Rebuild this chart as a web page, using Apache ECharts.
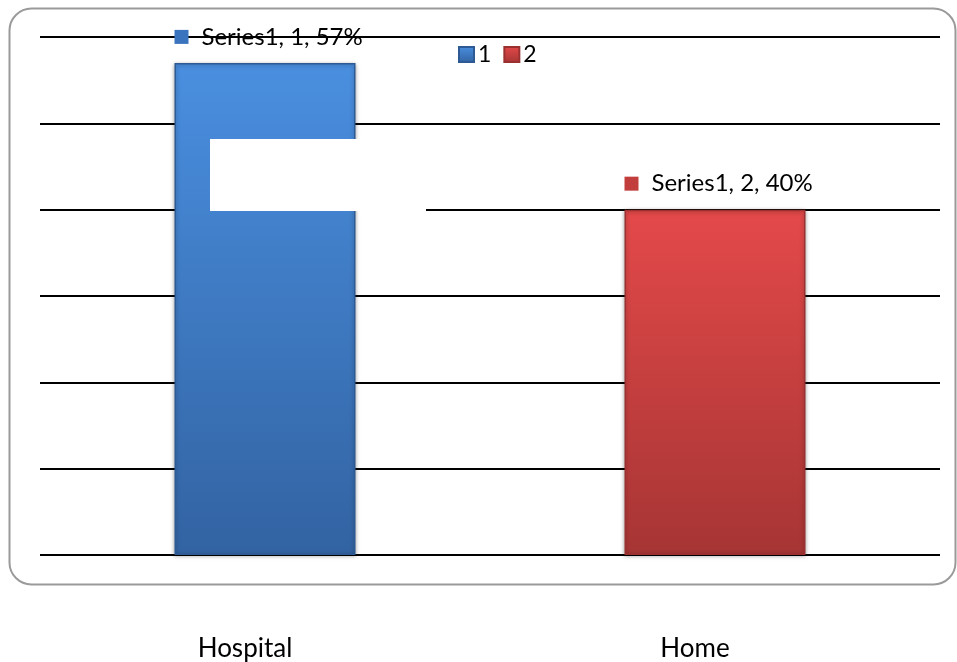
<!DOCTYPE html>
<html>
<head>
<meta charset="utf-8">
<script src="https://cdn.jsdelivr.net/npm/echarts@6/dist/echarts.min.js"></script>
<style>
  html, body { margin: 0; padding: 0; background: #fff; }
  #chart { width: 957px; height: 662px; }
</style>
</head>
<body>
<div id="chart"></div>
<script>
// Place of death shares
const categories = ['Hospital', 'Home'];
const seriesNames = ['1', '2'];
const hospitalValues = [57, null];
const homeValues = [null, 40];
const yTicks = [0, 10, 20, 30, 40, 50, 60];

const FONT = 'Lato';

function grad(top, bottom) {
  return new echarts.graphic.LinearGradient(0, 0, 0, 1, [
    { offset: 0, color: top },
    { offset: 1, color: bottom }
  ]);
}

const blue = grad('#4a8fe0', '#3263a2');
const red = grad('#e4494a', '#a63534');

function makeLabel(markerColor) {
  return {
    show: true,
    position: [0, -26],
    align: 'left',
    verticalAlign: 'middle',
    formatter: p => '{m|}{t|Series1, ' + (p.seriesName) + ', ' + p.value + '%}',
    rich: {
      m: { width: 14, height: 14, backgroundColor: markerColor },
      t: { fontFamily: FONT, fontSize: 24, color: '#000', padding: [0, 0, 0, 13] }
    }
  };
}

const chart = echarts.init(document.getElementById('chart'));
chart.setOption({
  animation: false,
  grid: { left: 40, right: 17, top: 37, bottom: 107 },
  legend: {
    left: 453, top: 38,
    icon: 'rect',
    itemWidth: 15, itemHeight: 15, itemGap: 12,
    textStyle: { fontFamily: FONT, fontSize: 23, color: '#000', padding: [0, 0, 0, -1] },
    data: seriesNames
  },
  xAxis: {
    type: 'category',
    data: categories,
    axisLine: { show: false },
    axisTick: { show: false },
    axisLabel: {
      margin: 81, fontFamily: FONT, fontSize: 26, color: '#000',
      padding: [0, 40, 0, 0]
    }
  },
  yAxis: {
    type: 'value',
    min: yTicks[0], max: yTicks[yTicks.length - 1], interval: 10,
    axisLabel: { show: false },
    axisLine: { show: false },
    axisTick: { show: false },
    splitLine: { lineStyle: { color: '#000', width: 2 } }
  },
  series: [
    {
      name: seriesNames[0], type: 'bar', data: hospitalValues,
      barWidth: 181, barGap: '-100%',
      itemStyle: { color: blue, borderColor: '#2d5a94', borderWidth: 1.5,
        shadowColor: 'rgba(0,0,0,0.35)', shadowBlur: 4, shadowOffsetY: 1 },
      label: makeLabel('#3a74bf')
    },
    {
      name: seriesNames[1], type: 'bar', data: homeValues,
      barWidth: 181,
      itemStyle: { color: red, borderColor: '#9a3130', borderWidth: 1.5,
        shadowColor: 'rgba(0,0,0,0.35)', shadowBlur: 4, shadowOffsetY: 1 },
      label: makeLabel('#c23e3d')
    }
  ],
  graphic: [
    {
      type: 'rect', z: 100,
      shape: { x: 9.5, y: 8.5, width: 946, height: 576, r: 22 },
      style: { fill: 'none', stroke: '#9a9a9a', lineWidth: 2 }
    },
    {
      type: 'rect', z: 50,
      shape: { x: 210, y: 139, width: 216, height: 72 },
      style: { fill: '#fff' }
    }
  ]
});
</script>
</body>
</html>
